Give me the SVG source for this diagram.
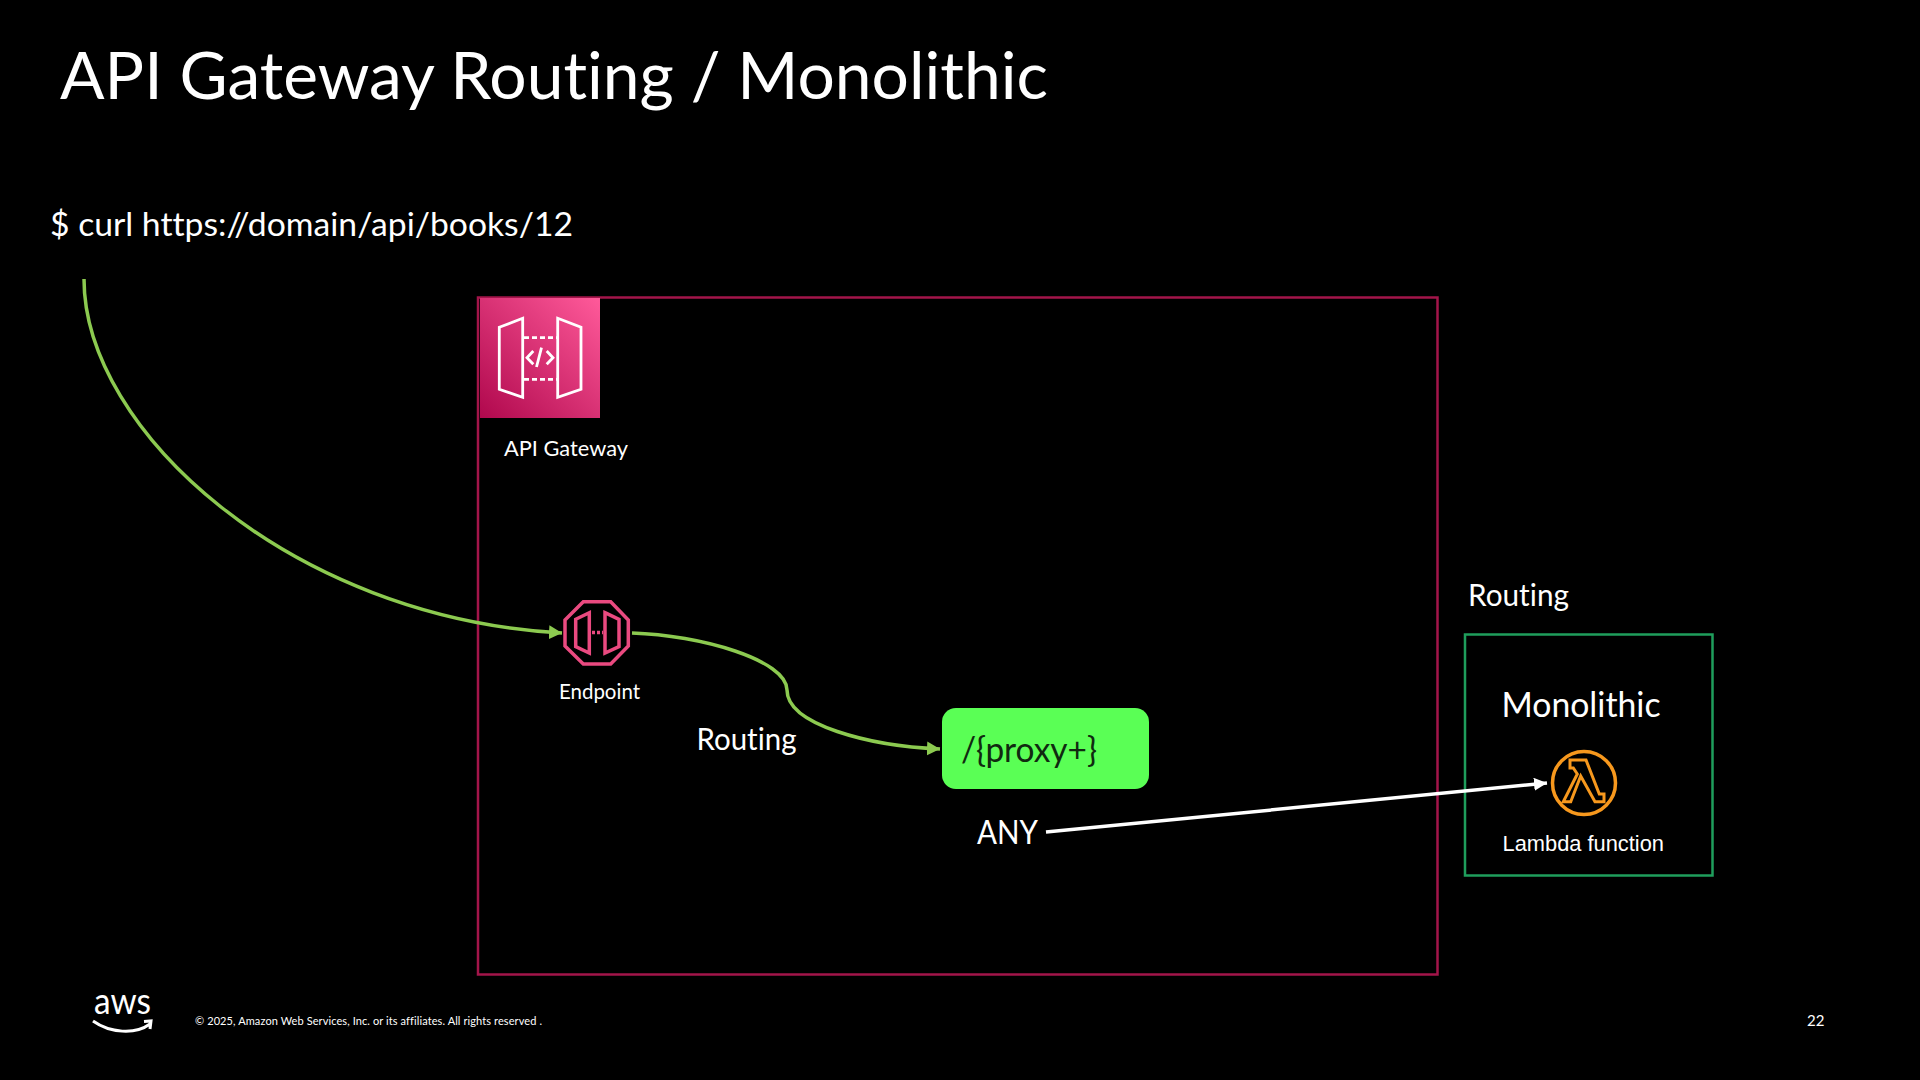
<svg xmlns="http://www.w3.org/2000/svg" width="1920" height="1080" viewBox="0 0 1920 1080">
<style>
text{font-family:"Lato","Liberation Sans",sans-serif;fill:#fff;font-variant-ligatures:none}
.arial{font-family:"Liberation Sans",Arial,sans-serif}
.curve{fill:none;stroke:#8cca50;stroke-width:3.500}
.pink{fill:none;stroke:#ea4a80;stroke-width:3.500}
.ico{fill:none;stroke:#fff;stroke-width:2.800}
</style>
<defs>
<linearGradient id="apigw" x1="0" y1="1" x2="1" y2="0"><stop offset="0" stop-color="#b0084d"/><stop offset="1" stop-color="#ff5a9a"/></linearGradient>
<marker id="ag" markerUnits="userSpaceOnUse" markerWidth="16" markerHeight="16" refX="13" refY="7" orient="auto"><path d="M0 0L13 7L0 14Z" fill="#8cca50"/></marker>
<marker id="aw" markerUnits="userSpaceOnUse" markerWidth="16" markerHeight="16" refX="13" refY="6.500" orient="auto"><path d="M0 0L13 6.500L0 13Z" fill="#fff"/></marker>
</defs>
<rect width="1920" height="1080" fill="#000"/>
<text id="title" x="60" y="99" font-size="65" textLength="988" lengthAdjust="spacingAndGlyphs">API Gateway Routing / Monolithic</text>
<text id="cmd" x="50" y="236" font-size="33" textLength="523" lengthAdjust="spacingAndGlyphs">$ curl https://domain/api/books/12</text>
<g id="gateway-frame"><rect x="478" y="297.500" width="959.500" height="677" fill="none" stroke="#a3154a" stroke-width="2.500"/></g>
<g id="api-gateway">
<rect x="480" y="298" width="120" height="120" fill="url(#apigw)"/>
<path class="ico" d="M499.300 327.300L522.700 318.300V397.300L499.300 389.300ZM557.700 318.300L581 327.300V389.300L557.700 397.300Z"/>
<path class="ico" stroke-dasharray="5 3" d="M524 337.700H557M524 379.300H557"/>
<path class="ico" d="M533.300 351L527 357.700L533.300 364.300M546.700 351L553 357.700L546.700 364.300M541.500 347.700L536.500 367"/>
<text x="504" y="456" font-size="22" textLength="124" lengthAdjust="spacingAndGlyphs">API Gateway</text>
</g>
<g id="endpoint">
<path class="pink" d="M583.300 601.700H610.700L628.300 620V646L610.700 664H583.300L565 646V620Z"/>
<path class="pink" stroke-width="3" d="M589.300 612.700V653L575.700 646.700V619.300ZM605 612.700L619 619.300V646.700L605 653Z"/>
<path class="pink" stroke-width="2" stroke-dasharray="3 2" d="M592 632.500H603"/>
<text x="559" y="699" font-size="21" textLength="81" lengthAdjust="spacingAndGlyphs">Endpoint</text>
</g>
<g id="routing-label"><text x="696.500" y="750" font-size="31" textLength="100" lengthAdjust="spacingAndGlyphs">Routing</text></g>
<g id="proxy">
<rect x="942" y="708" width="207" height="81" rx="14" fill="#5aff55"/>
<text x="961" y="762" font-size="34" style="fill:#102a10" textLength="136" lengthAdjust="spacingAndGlyphs">/{proxy+}</text>
</g>
<g id="any"><text x="977" y="844" font-size="33" textLength="61" lengthAdjust="spacingAndGlyphs">ANY</text></g>
<g id="monolithic-frame">
<text x="1468" y="606" font-size="30" textLength="101" lengthAdjust="spacingAndGlyphs">Routing</text>
<rect x="1465" y="634.500" width="247.500" height="241" fill="none" stroke="#1f9e5c" stroke-width="2.500"/>
<text x="1501.500" y="717" font-size="34" textLength="159" lengthAdjust="spacingAndGlyphs">Monolithic</text>
</g>
<g id="lambda">
<circle cx="1584" cy="783" r="31.500" fill="none" stroke="#f7981d" stroke-width="3.500"/>
<path fill="none" stroke="#f7981d" stroke-width="3" stroke-linejoin="miter" d="M1570 760H1586L1599.300 794H1604V801.700H1595L1580.700 776L1570.700 801.700H1563.300L1577.300 774L1573.300 768H1570Z"/>
<text class="arial" x="1502.500" y="851" font-size="22" textLength="161.500" lengthAdjust="spacingAndGlyphs">Lambda function</text>
</g>
<g id="connectors">
<path class="curve" marker-end="url(#ag)" d="M84 279C84 430 290 618 562 633"/>
<path class="curve" marker-end="url(#ag)" d="M632 633C700 635 787 660 787 690C787 725 870 746 940 749"/>
<path fill="none" stroke="#fff" stroke-width="3.500" marker-end="url(#aw)" d="M1046 832L1547 783"/>
</g>
<g id="footer">
<text x="94" y="1014" font-size="36" textLength="57" lengthAdjust="spacingAndGlyphs">aws</text>
<path fill="none" stroke="#fff" stroke-width="3" d="M93 1021C110 1033 135 1035 150 1024M144 1021.500L151 1021L150 1029"/>
<text x="195" y="1025" font-size="11" textLength="347" lengthAdjust="spacing">© 2025, Amazon Web Services, Inc. or its affiliates. All rights reserved .</text>
<text x="1807" y="1026" font-size="15">22</text>
</g>
</svg>
